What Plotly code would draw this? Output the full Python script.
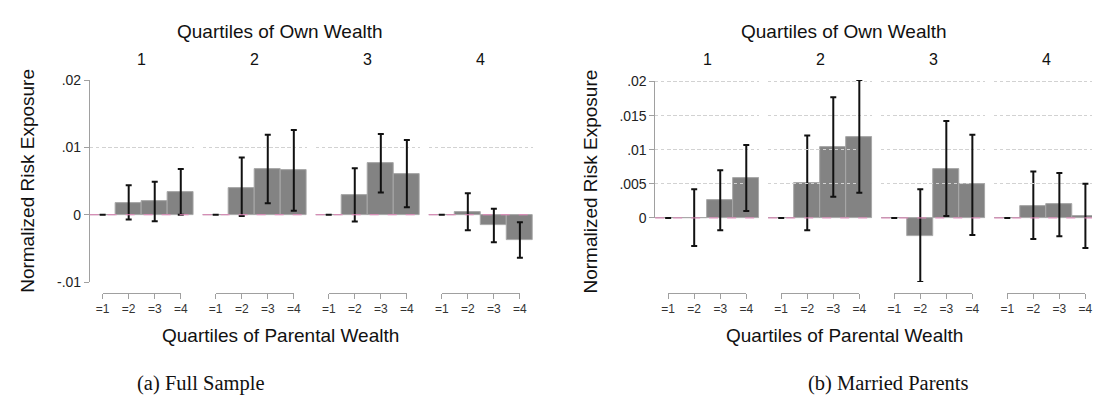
import plotly.graph_objects as go

# ---- data -------------------------------------------------------------
own_quartiles = ["1", "2", "3", "4"]
parent_labels = ["=1", "=2", "=3", "=4"]

# Full sample: coefficient and 95% CI per own-wealth quartile (rows)
full_coef = [[0, 0.0018, 0.0020, 0.0033],
             [0, 0.0040, 0.0068, 0.0066],
             [0, 0.0029, 0.0077, 0.0061],
             [0, 0.0004, -0.0016, -0.0037]]
full_lo = [[0, -0.0007, -0.00095, 0.0000],
           [0, -0.0002, 0.0017, 0.0006],
           [0, -0.0010, 0.0033, 0.0011],
           [0, -0.0023, -0.0041, -0.0064]]
full_hi = [[0, 0.0044, 0.0049, 0.0068],
           [0, 0.0085, 0.0119, 0.0126],
           [0, 0.0069, 0.0120, 0.0111],
           [0, 0.0032, 0.0009, -0.0011]]

# Married parents
married_coef = [[0, 0.0000, 0.0026, 0.0058],
                [0, 0.0051, 0.0104, 0.0119],
                [0, -0.0026, 0.0072, 0.0049],
                [0, 0.0018, 0.0020, 0.0002]]
married_lo = [[0, -0.0041, -0.0018, 0.0010],
              [0, -0.0018, 0.0031, 0.0037],
              [0, -0.0094, 0.0003, -0.0025],
              [0, -0.0031, -0.0027, -0.0044]]
married_hi = [[0, 0.0042, 0.0070, 0.0107],
              [0, 0.0121, 0.0177, 0.0202],
              [0, 0.0042, 0.0142, 0.0122],
              [0, 0.0068, 0.0066, 0.0050]]

full_ticks = [-0.01, 0, 0.01, 0.02]
full_ticktext = ["-.01", "0", ".01", ".02"]
married_ticks = [0, 0.005, 0.01, 0.015, 0.02]
married_ticktext = ["0", ".005", ".01", ".015", ".02"]

# ---- styling / geometry -------------------------------------------------
W, H = 1099, 417
TOP, BOT = 75, 285          # plot region (px from top)
PITCH, GW = 114.5, 105.5    # group spacing / group width (px)
BRACKET_Y = 296

BAR = "#838383"
BAR_EDGE = "#a8a8a8"
AXIS = "#a0a0a0"
GRID = "#d2d2d2"
ZERO = "#e386ba"
SANS = "Liberation Sans, Arial, sans-serif"
SERIF = "Liberation Serif, Times New Roman, serif"


def fx(p):
    return p / W


def fy(p):
    return 1 - p / H


def label(text, x, y, size, family=SANS, angle=0):
    return dict(text=text, xref="paper", yref="paper", x=fx(x), y=fy(y),
                xanchor="center", yanchor="middle", textangle=angle,
                showarrow=False,
                font=dict(family=family, size=size, color="#111111"))


panels = [
    dict(coef=full_coef, lo=full_lo, hi=full_hi, x0=83.7,
         yrange=(-0.01, 0.02), grid=[-0.01, 0.01],
         ticks=full_ticks, ticktext=full_ticktext,
         center=277, ytitle_x=20, caption="(a) Full Sample", cap_x=197),
    dict(coef=married_coef, lo=married_lo, hi=married_hi, x0=656.5,
         yrange=(-0.0094, 0.0202), grid=[0.005, 0.01, 0.015, 0.02],
         ticks=married_ticks, ticktext=married_ticktext,
         center=848, ytitle_x=591, caption="(b) Married Parents", cap_x=893),
]

fig = go.Figure()
layout = {}
shapes = []
annotations = []
ax = 0  # axis counter


def next_ax():
    global ax
    ax += 1
    return ax


for p in panels:
    ymin, ymax = p["yrange"]

    def ypix(v, ymin=ymin, ymax=ymax):
        return TOP + (ymax - v) * (BOT - TOP) / (ymax - ymin)

    # data y axis (carries the dotted grid)
    yd = next_ax()
    yd_name = "y" if yd == 1 else f"y{yd}"
    # label y axis (line spans only the labelled range)
    yl = next_ax()
    yl_name = f"y{yl}"

    first_x = None
    for g in range(4):
        start = p["x0"] + g * PITCH
        end = min(start + GW, W)
        xd = next_ax()
        xd_name = "x" if xd == 1 else f"x{xd}"
        if first_x is None:
            first_x = xd_name
        layout[f"xaxis{'' if xd == 1 else xd}"] = dict(
            domain=[fx(start), fx(end)], type="category",
            categoryorder="array", categoryarray=parent_labels,
            range=[-0.5, -0.5 + 4 * (end - start) / GW],
            anchor=yd_name, showline=False, showgrid=False, zeroline=False,
            ticks="", showticklabels=False, fixedrange=True)

        coef = p["coef"][g]
        lo = p["lo"][g]
        hi = p["hi"][g]
        fig.add_trace(go.Bar(
            x=parent_labels, y=coef, xaxis=xd_name, yaxis=yd_name,
            marker=dict(color=BAR, line=dict(color=BAR_EDGE, width=1)),
            error_y=dict(type="data", symmetric=False,
                         array=[h - c for h, c in zip(hi, coef)],
                         arrayminus=[c - l for c, l in zip(coef, lo)],
                         color="#111111", thickness=2, width=3),
            showlegend=False, hoverinfo="skip"))

        # bracket axis with the parental-wealth tick labels
        xb = next_ax()
        xb_name = f"x{xb}"
        layout[f"xaxis{xb}"] = dict(
            domain=[fx(start + GW / 8), fx(start + GW * 7 / 8)],
            range=[0, 3], tickvals=[0, 1, 2, 3], ticktext=parent_labels,
            anchor="free", position=fy(BRACKET_Y),
            showline=True, linecolor=AXIS, linewidth=1,
            ticks="outside", ticklen=5, tickcolor=AXIS, tickwidth=1,
            tickfont=dict(family=SANS, size=12, color="#333333"),
            showgrid=False, zeroline=False, fixedrange=True)
        fig.add_trace(go.Scatter(
            x=[0, 3], y=[0, 0], xaxis=xb_name, yaxis=yd_name,
            mode="markers", marker=dict(opacity=0), showlegend=False,
            hoverinfo="skip"))

        # dashed reference line at zero
        shapes.append(dict(
            type="line", xref=f"{xd_name} domain", x0=0, x1=1,
            yref=yd_name, y0=0, y1=0, layer="above",
            line=dict(color=ZERO, width=1, dash="dash")))

        annotations.append(label(own_quartiles[g], start + GW / 2, 54, 16))

    layout[f"yaxis{'' if yd == 1 else yd}"] = dict(
        domain=[fy(BOT), fy(TOP)], range=[ymin, ymax],
        tickvals=p["grid"], showticklabels=False, ticks="",
        showline=False, showgrid=True, gridcolor=GRID, griddash="dot",
        gridwidth=1, zeroline=False, anchor=first_x, fixedrange=True)

    lab_lo = min(p["ticks"])
    lab_hi = max(p["ticks"])
    layout[f"yaxis{yl}"] = dict(
        domain=[fy(ypix(lab_lo)), fy(ypix(lab_hi))], range=[lab_lo, lab_hi],
        tickvals=p["ticks"], ticktext=p["ticktext"],
        anchor="free", position=fx(p["x0"] - 0.7), side="left",
        showline=True, linecolor=AXIS, linewidth=1,
        ticks="outside", ticklen=5, tickcolor=AXIS, tickwidth=1,
        tickfont=dict(family=SANS, size=14, color="#222222"),
        showgrid=False, zeroline=False, fixedrange=True)
    fig.add_trace(go.Scatter(
        x=[parent_labels[0]], y=[lab_lo], xaxis=first_x, yaxis=yl_name,
        mode="markers", marker=dict(opacity=0), showlegend=False,
        hoverinfo="skip"))

    annotations += [
        label("Quartiles of Own Wealth", p["center"], 24, 19),
        label("Quartiles of Parental Wealth", p["center"], 341, 19),
        label("Normalized Risk Exposure", p["ytitle_x"], (TOP + BOT) / 2,
              19, angle=-90),
        label(p["caption"], p["cap_x"], 391, 20.5, family=SERIF),
    ]

fig.update_layout(
    width=W, height=H, margin=dict(l=0, r=0, t=0, b=0),
    paper_bgcolor="white", plot_bgcolor="rgba(0,0,0,0)",
    bargap=0, barmode="group", showlegend=False,
    shapes=shapes, annotations=annotations, **layout)

fig.write_html("out.html")
